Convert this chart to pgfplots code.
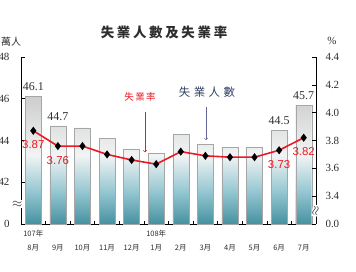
\documentclass[border=0pt]{standalone}
\usepackage{fontspec}
\setmainfont{Liberation Serif}
\newfontfamily\cjk{Noto Sans CJK TC}
\newfontfamily\arial{Liberation Sans}
\usepackage{pgfplots}
\usepackage{pgfplotstable}
\pgfplotsset{compat=1.18}
\definecolor{tealA}{RGB}{70,145,160}
\definecolor{tealB}{RGB}{150,200,210}
\definecolor{whiteA}{RGB}{242,244,244}
\definecolor{greyA}{RGB}{205,205,205}
\definecolor{redA}{RGB}{235,25,35}
\definecolor{navyA}{RGB}{50,65,100}
\definecolor{txt}{RGB}{45,45,45}
\pgfdeclareverticalshading{barshade}{100bp}{color(0bp)=(tealA); color(25bp)=(tealA); color(38bp)=(tealB); color(52bp)=(whiteA); color(75bp)=(greyA); color(100bp)=(greyA)}

\pgfplotstableread{
i n lab
0 46.1 46.1
1 44.7 44.7
2 44.6 {}
3 44.1 {}
4 43.6 {}
5 43.4 {}
6 44.3 {}
7 43.8 {}
8 43.7 {}
9 43.7 {}
10 44.5 44.5
11 45.7 45.7
}\bars

\pgfplotstableread{
i r lab
0 3.87 3.87
1 3.76 3.76
2 3.76 {}
3 3.70 {}
4 3.66 {}
5 3.63 {}
6 3.72 {}
7 3.69 {}
8 3.68 {}
9 3.68 {}
10 3.73 3.73
11 3.82 3.82
}\rates

\begin{document}
\begin{tikzpicture}
\begin{axis}[name=ax, scale only axis, width=295bp, height=167bp,
  xmin=-0.5, xmax=11.5, ymin=0, ymax=8,
  axis x line*=bottom, axis y line*=left,
  axis line style={line width=0.8bp},
  ytick={0,2,4,6,8}, yticklabels={0,42,44,46,48},
  xtick={0,...,11},
  xticklabels={8月,9月,10月,11月,12月,1月,2月,3月,4月,5月,6月,7月},
  minor xtick={0.5,1.5,...,10.5},
  major x tick style={draw=none},
  minor tick length=3bp, major tick length=4bp,
  tick align=inside, tick style={black, line width=0.6bp},
  xticklabel style={font=\cjk\fontsize{7.5}{8}\selectfont, text=txt, yshift=-17bp},
  yticklabel style={font=\fontsize{11}{12}\selectfont, text=txt, xshift=-8bp},
  /pgf/number format/assume math mode=true,
  clip=false,
]
\addplot[ybar, bar width=16bp, shading=barshade, draw=gray!70, line width=0.4bp,
  point meta=explicit symbolic,
  nodes near coords, every node near coord/.append style={font=\fontsize{12}{13}\selectfont, text=txt, anchor=south, yshift=2bp}]
  table[x=i, y expr=\thisrow{n}-40, meta=lab]{\bars};
\node[font=\cjk\fontsize{7.5}{8}\selectfont, text=txt] at (axis cs:0,0) [yshift=-10bp] {107年};
\node[font=\cjk\fontsize{7.5}{8}\selectfont, text=txt] at (axis cs:5,0) [yshift=-10bp] {108年};
\node[fill=white, inner sep=0.5bp, text=txt, scale=1.3] at (rel axis cs:0,0.12) [xshift=-3bp] {$\approx$};
\end{axis}
\begin{axis}[scale only axis, width=295bp, height=167bp,
  xmin=-0.5, xmax=11.5, ymin=0, ymax=1.2,
  axis y line*=right, axis x line=none,
  axis line style={line width=0.8bp},
  ytick={0,0.2,0.4,0.6,0.8,1.0,1.2}, yticklabels={0.0,3.4,3.6,3.8,4.0,4.2,4.4},
  major tick length=4bp, tick align=inside, tick style={black, line width=0.6bp},
  yticklabel style={font=\fontsize{11}{12}\selectfont, text=txt, xshift=6bp},
  clip=false,
]
\addplot[redA, line width=1.6bp, mark=diamond*, mark size=2.8bp, mark options={black, fill=black},
  point meta=explicit symbolic,
  nodes near coords, every node near coord/.append style={font=\arial\fontsize{11.5}{12}\selectfont, text=redA, anchor=north, yshift=-6bp}]
  table[x=i, y expr=\thisrow{r}-3.2, meta=lab]{\rates};
\node[fill=white, inner sep=0.5bp, rotate=80, text=txt, scale=1.3] at (rel axis cs:1,0.08) {$\approx$};
\node[font=\cjk\bfseries\fontsize{13.5}{14}\addfontfeature{LetterSpace=20}\selectfont, text=txt] at (rel axis cs:0.5,1) [yshift=25bp, xshift=-4.5bp] {失業人數及失業率};
\node[font=\cjk\fontsize{9.5}{10}\addfontfeature{LetterSpace=15}\selectfont, text=redA] at (rel axis cs:0.4034,0.76) {失業率};
\draw[redA, line width=0.6bp, ->] (rel axis cs:0.42,0.67) -- (rel axis cs:0.42,0.43);
\node[font=\cjk\fontsize{11.5}{12}\addfontfeature{LetterSpace=30}\selectfont, text=navyA] at (rel axis cs:0.6305,0.79) {失業人數};
\draw[gray!80!blue, line width=0.6bp, ->] (rel axis cs:0.627,0.70) -- (rel axis cs:0.627,0.503);
\node[font=\cjk\fontsize{10}{11}\selectfont, text=txt, anchor=west, inner sep=0pt] at (rel axis cs:0,1) [xshift=-20bp, yshift=15bp] {萬人};
\node[font=\fontsize{11}{12}\selectfont, text=txt] at (rel axis cs:1,1) [xshift=16bp, yshift=16bp] {\%};
\end{axis}
\pgfresetboundingbox
\path[use as bounding box] (ax.south west) ++(-21bp,-48bp) rectangle ++(356bp,272bp);
\end{tikzpicture}
\end{document}
